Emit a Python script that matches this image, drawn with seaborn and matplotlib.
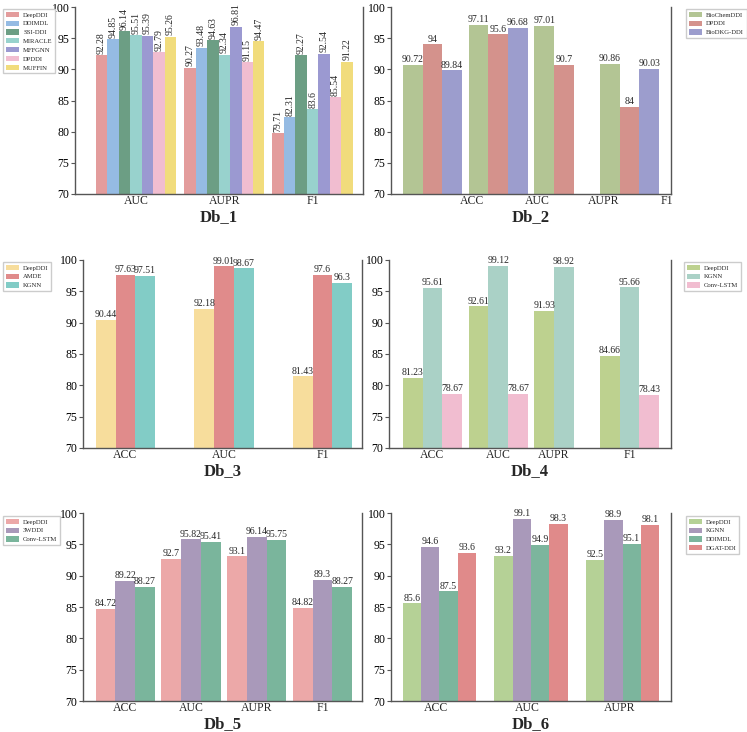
import numpy as np
import pandas as pd
import matplotlib.pyplot as plt
import seaborn as sns

# ---- data ----
db1_metrics = ['AUC', 'AUPR', 'F1']
db1_models = ['DeepDDI', 'DDIMDL', 'SSI-DDI', 'MIRACLE', 'MFFGNN', 'DPDDI', 'MUFFIN']
db1_values = {
    'DeepDDI': [92.28, 90.27, 79.71],
    'DDIMDL': [94.85, 93.48, 82.31],
    'SSI-DDI': [96.14, 94.63, 92.27],
    'MIRACLE': [95.51, 92.34, 83.6],
    'MFFGNN': [95.39, 96.81, 92.54],
    'DPDDI': [92.79, 91.15, 85.54],
    'MUFFIN': [95.26, 94.47, 91.22],
}
db1_colors = ['#e39c9c', '#95bbe3', '#6c9e84', '#98d2cd', '#9b99d1', '#f1bdd0', '#f1dc7c']

db2_metrics = ['ACC', 'AUC', 'AUPR', 'F1']
db2_models = ['BioChemDDI', 'DPDDI', 'BioDKG-DDI']
db2_values = {
    'BioChemDDI': [90.72, 97.11, 97.01, 90.86],
    'DPDDI': [94, 95.6, 90.7, 84],
    'BioDKG-DDI': [89.84, 96.68, np.nan, 90.03],
}
db2_colors = ['#b3c594', '#d4928c', '#9c9dcd']

db3_metrics = ['ACC', 'AUC', 'F1']
db3_models = ['DeepDDI', 'AMDE', 'KGNN']
db3_values = {
    'DeepDDI': [90.44, 92.18, 81.43],
    'AMDE': [97.63, 99.01, 97.6],
    'KGNN': [97.51, 98.67, 96.3],
}
db3_colors = ['#f7dd9c', '#e08b8b', '#82ccc6']

db4_metrics = ['ACC', 'AUC', 'AUPR', 'F1']
db4_models = ['DeepDDI', 'KGNN', 'Conv-LSTM']
db4_values = {
    'DeepDDI': [81.23, 92.61, 91.93, 84.66],
    'KGNN': [95.61, 99.12, 98.92, 95.66],
    'Conv-LSTM': [78.67, 78.67, np.nan, 78.43],
}
db4_colors = ['#bdd18f', '#aad1c6', '#f1bdd0']

db5_metrics = ['ACC', 'AUC', 'AUPR', 'F1']
db5_models = ['DeepDDI', '3WDDI', 'Conv-LSTM']
db5_values = {
    'DeepDDI': [84.72, 92.7, 93.1, 84.82],
    '3WDDI': [89.22, 95.82, 96.14, 89.3],
    'Conv-LSTM': [88.27, 95.41, 95.75, 88.27],
}
db5_colors = ['#eca8a8', '#a999ba', '#7ab59c']

db6_metrics = ['ACC', 'AUC', 'AUPR']
db6_models = ['DeepDDI', 'KGNN', 'DDIMDL', 'DGAT-DDI']
db6_values = {
    'DeepDDI': [85.6, 93.2, 92.5],
    'KGNN': [94.6, 99.1, 98.9],
    'DDIMDL': [87.5, 94.9, 95.1],
    'DGAT-DDI': [93.6, 98.3, 98.1],
}
db6_colors = ['#b5d196', '#a999ba', '#7cb59d', '#e08a8a']


def to_long(metrics, models, values):
    rows = []
    for m in models:
        for k, v in zip(metrics, values[m]):
            rows.append({'metric': k, 'model': m, 'value': v})
    return pd.DataFrame(rows).dropna()


sns.set_style('white')
plt.rcParams['font.family'] = ['Liberation Serif', 'DejaVu Serif']
plt.rcParams['axes.edgecolor'] = '#555555'
plt.rcParams['axes.linewidth'] = 1.0

fig = plt.figure(figsize=(7.47, 7.32), dpi=100)
W, H = 747.0, 732.0


def make_ax(l, r, top, bot):
    return fig.add_axes([l / W, 1 - bot / H, (r - l) / W, (bot - top) / H])


panels = [
    # metrics, models, values, colors, title, ax box, width, xlim, legend pos, rotate, xticks
    (db1_metrics, db1_models, db1_values, db1_colors, 'Db_1', (75, 363, 7, 194), 0.91,
     (-0.69, 2.57), (3, 9), True, None),
    (db2_metrics, db2_models, db2_values, db2_colors, 'Db_2', (391, 671, 7, 194), 0.9,
     (-0.63, 3.63), (686, 9), False, [0.6, 1.6, 2.6, 3.56]),
    (db3_metrics, db3_models, db3_values, db3_colors, 'Db_3', (83, 362, 260, 448), 0.6,
     (-0.43, 2.40), (3, 262), False, None),
    (db4_metrics, db4_models, db4_values, db4_colors, 'Db_4', (389, 671, 260, 448), 0.9,
     (-0.66, 3.63), (684, 262), False, [0, 1, 1.85, 3]),
    (db5_metrics, db5_models, db5_values, db5_colors, 'Db_5', (83, 362, 513, 701), 0.9,
     (-0.64, 3.60), (3, 516), False, None),
    (db6_metrics, db6_models, db6_values, db6_colors, 'Db_6', (391, 671, 513, 701), 0.8,
     (-0.53, 2.53), (686, 516), False, [-0.035, 0.965, 1.965]),
]

for metrics, models, values, colors, title, box, width, xlim, legpos, rot, xt in panels:
    ax = make_ax(*box)
    df = to_long(metrics, models, values)
    sns.barplot(data=df, x='metric', y='value', hue='model', order=metrics,
                hue_order=models, palette=colors, width=width, errorbar=None,
                saturation=1, linewidth=0, ax=ax)
    for cont in ax.containers:
        labs = ['{:g}'.format(b.get_height()) for b in cont]
        if rot:
            ax.bar_label(cont, labels=labs, rotation=90, padding=1, fontsize=7)
        else:
            ax.bar_label(cont, labels=labs, padding=0.5, fontsize=7)
    ax.set_ylim(70, 100)
    ax.set_yticks([70, 75, 80, 85, 90, 95, 100])
    ax.set_xlim(*xlim)
    if xt is not None:
        ax.set_xticks(xt)
        ax.set_xticklabels(metrics)
    ax.set_ylabel('')
    ax.set_xlabel(title, fontsize=12, fontweight='bold', labelpad=1)
    ax.tick_params(axis='y', left=True, length=3, width=0.8, labelsize=8.5, pad=1,
                   colors='#555555', labelcolor='black')
    ax.tick_params(axis='x', bottom=False, length=0, labelsize=8.5, pad=1)
    ax.spines['top'].set_visible(False)
    handles, labels = ax.get_legend_handles_labels()
    ax.legend(handles, labels, loc='upper left',
              bbox_to_anchor=(legpos[0] / W, 1 - legpos[1] / H),
              bbox_transform=fig.transFigure, fontsize=4.8, frameon=True,
              handlelength=2.0, handleheight=0.8, handletextpad=0.6,
              borderpad=0.4, labelspacing=0.45, borderaxespad=0,
              fancybox=False, edgecolor='#cccccc', framealpha=1)

fig.savefig('out.png', dpi=100)
